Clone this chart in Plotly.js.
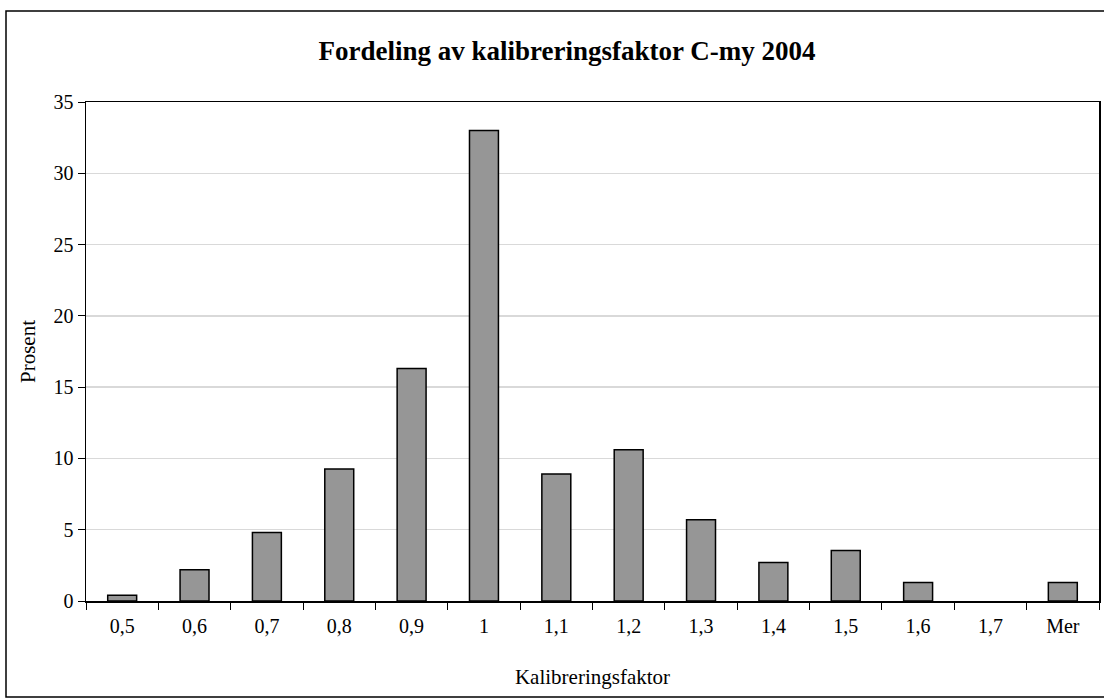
<!DOCTYPE html>
<html>
<head>
<meta charset="utf-8">
<script src="https://cdn.plot.ly/plotly-3.0.1.min.js"></script>
<style>
  html, body { margin: 0; padding: 0; background: #fff; }
  #chart { width: 1104px; height: 699px; }
</style>
</head>
<body>
<div id="chart"></div>
<script>
const categories = ["0,5", "0,6", "0,7", "0,8", "0,9", "1", "1,1", "1,2", "1,3", "1,4", "1,5", "1,6", "1,7", "Mer"];
const prosent = [0.4, 2.2, 4.8, 9.25, 16.3, 33.0, 8.9, 10.6, 5.7, 2.7, 3.55, 1.3, 0, 1.3];
const yTicks = [0, 5, 10, 15, 20, 25, 30, 35];

const fontFamily = '"Liberation Serif", "Times New Roman", serif';

const trace = {
  type: 'bar',
  x: categories,
  y: prosent,
  marker: {
    color: '#969696',
    line: { color: '#000000', width: prosent.map(v => (v > 0 ? 1.5 : 0)) }
  },
  hoverinfo: 'x+y'
};

const layout = {
  width: 1104,
  height: 699,
  margin: { l: 86, r: 5, t: 102, b: 98 },
  paper_bgcolor: '#ffffff',
  plot_bgcolor: '#ffffff',
  bargap: 0.6,
  showlegend: false,
  font: { family: fontFamily, color: '#000000', size: 20 },
  title: {
    text: '<b>Fordeling av kalibreringsfaktor C-my 2004</b>',
    font: { family: fontFamily, size: 27, color: '#000000' },
    x: 567 / 1104, xref: 'container', xanchor: 'center',
    y: 0.927, yref: 'container', yanchor: 'middle'
  },
  xaxis: {
    type: 'category',
    tickson: 'boundaries',
    ticks: 'outside',
    ticklen: 7,
    tickcolor: '#000000',
    tickwidth: 1,
    ticklabelstandoff: 6,
    showline: true,
    linecolor: '#000000',
    linewidth: 1.5,
    mirror: true,
    showgrid: false,
    tickfont: { family: fontFamily, size: 20, color: '#000000' },
    title: { text: 'Kalibreringsfaktor', font: { family: fontFamily, size: 21, color: '#000000' }, standoff: 34 },
    automargin: false,
    fixedrange: true
  },
  yaxis: {
    range: [0, 35],
    tickvals: yTicks,
    ticktext: yTicks.map(String),
    ticks: 'outside',
    ticklen: 7,
    tickcolor: '#000000',
    showline: true,
    linecolor: '#000000',
    linewidth: 1.5,
    mirror: true,
    showgrid: true,
    gridcolor: '#d9d9d9',
    gridwidth: 1.5,
    zeroline: false,
    tickfont: { family: fontFamily, size: 20, color: '#000000' },
    title: { text: 'Prosent', font: { family: fontFamily, size: 21, color: '#000000' }, standoff: 12 },
    automargin: false,
    fixedrange: true
  },
  shapes: [{
    type: 'rect', xref: 'paper', yref: 'paper',
    x0: -80 / 1013, x1: 1097 / 1013,
    y0: -96 / 499, y1: 590 / 499,
    line: { color: '#000000', width: 1.5 },
    fillcolor: 'rgba(0,0,0,0)',
    layer: 'below'
  }]
};

Plotly.newPlot('chart', [trace], layout, { displayModeBar: false, staticPlot: true });
</script>
</body>
</html>
